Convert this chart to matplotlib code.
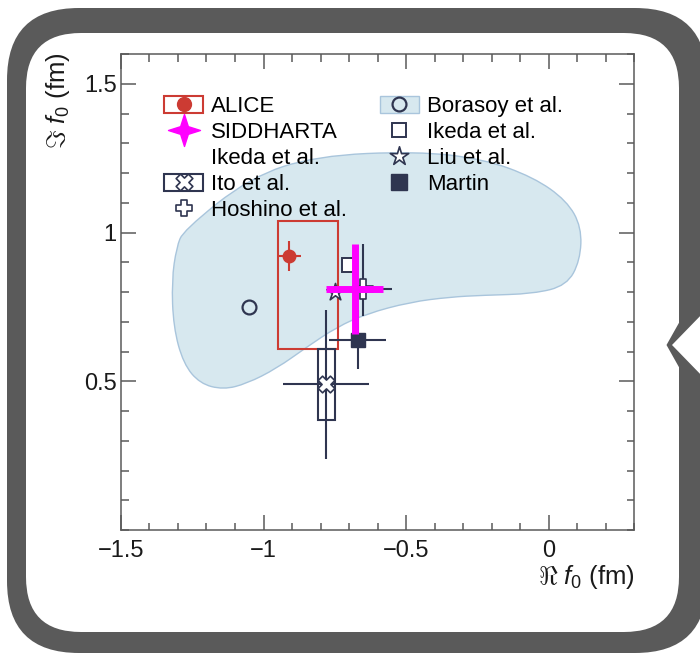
import matplotlib
matplotlib.use("Agg")
import matplotlib.pyplot as plt
import numpy as np
from matplotlib.path import Path
from matplotlib.patches import PathPatch, Rectangle, FancyBboxPatch, Polygon
from matplotlib.lines import Line2D
from matplotlib.ticker import MultipleLocator

plt.rcParams['font.family'] = ['Liberation Sans', 'DejaVu Sans']
plt.rcParams['mathtext.fontset'] = 'custom'
plt.rcParams['mathtext.rm'] = 'Liberation Sans'
plt.rcParams['mathtext.it'] = 'Liberation Sans:italic'

# K-p scattering lengths f0 = Re + i Im (fm)
alice_re, alice_im = -0.91, 0.92
alice_stat_re, alice_stat_im = 0.04, 0.05
alice_syst_re = (0.04, 0.17)   # (minus, plus)
alice_syst_im = (0.31, 0.12)

siddharta_re, siddharta_im = -0.68, 0.81
siddharta_err_re, siddharta_err_im = 0.10, 0.15

ito_re, ito_im = -0.78, 0.49
ito_stat_re, ito_stat_im = 0.15, 0.25
ito_syst_re, ito_syst_im = 0.03, 0.12

hoshino_re, hoshino_im = -0.65, 0.81
hoshino_err_re = 0.10
hoshino_err_im = (0.09, 0.15)   # (minus, plus)

borasoy_re, borasoy_im = -1.05, 0.75
ikeda_re, ikeda_im = -0.70, 0.89
liu_re, liu_im = -0.75, 0.80
martin_re, martin_im = -0.67, 0.64
martin_err_re, martin_err_im = 0.10, 0.10

# allowed region from Borasoy et al.
region_re = [-1.281, -1.047, -0.813, -0.462, -0.229, -0.053, 0.064, 0.116, 0.111,
             0.064, -0.053, -0.229, -0.346, -0.486, -0.638, -0.743, -0.848, -0.954,
             -1.059, -1.141, -1.223, -1.281, -1.316, -1.322, -1.305]
region_im = [1.007, 1.186, 1.258, 1.273, 1.247, 1.186, 1.107, 1.018, 0.906,
             0.822, 0.794, 0.789, 0.783, 0.766, 0.727, 0.682, 0.615, 0.543,
             0.492, 0.472, 0.492, 0.559, 0.682, 0.839, 0.951]

RED = '#cc3b33'
NAVY = '#2f3550'
MAGENTA = '#ff00ff'
BLUE_FILL = '#d7e8ef'
BLUE_EDGE = '#a9c5dc'
FRAME = '#5a5a5a'


def star(npts, inner):
    k = np.arange(2 * npts)
    ang = np.pi / 2 + k * np.pi / npts
    r = np.where(k % 2 == 0, 1.0, inner)
    v = np.column_stack([r * np.cos(ang), r * np.sin(ang)])
    v = np.vstack([v, v[:1]])
    return Path(v, [Path.MOVETO] + [Path.LINETO] * (2 * npts - 1) + [Path.CLOSEPOLY])


def open_cross(w=0.36, rot=0.0):
    v = np.array([(-w, 1), (w, 1), (w, w), (1, w), (1, -w), (w, -w), (w, -1),
                  (-w, -1), (-w, -w), (-1, -w), (-1, w), (-w, w), (-w, 1)])
    c, s = np.cos(np.radians(rot)), np.sin(np.radians(rot))
    v = v @ np.array([[c, s], [-s, c]])
    return Path(v, [Path.MOVETO] + [Path.LINETO] * 11 + [Path.CLOSEPOLY])


def smooth_closed(xs, ys):
    p = np.column_stack([xs, ys])
    n = len(p)
    mids = (p + np.roll(p, -1, axis=0)) / 2
    verts = [mids[-1]]
    codes = [Path.MOVETO]
    for i in range(n):
        verts += [p[i], mids[i]]
        codes += [Path.CURVE3, Path.CURVE3]
    return Path(verts, codes)


sidd_marker = star(4, 0.34)
liu_marker = star(5, 0.36)
ito_marker = open_cross(rot=45)
hosh_marker = open_cross()

fig = plt.figure(figsize=(7.0, 6.54), dpi=100)

# rounded panel frame
bg = fig.add_axes([0, 0, 1, 1], zorder=-5)
bg.set_xlim(0, 700)
bg.set_ylim(654, 0)
bg.axis('off')
bg.add_patch(FancyBboxPatch((7, 8), 700, 645, boxstyle='round,pad=0,rounding_size=72',
                            fc=FRAME, ec='none'))
bg.add_patch(FancyBboxPatch((26, 33), 653, 599, boxstyle='round,pad=0,rounding_size=55',
                            fc='white', ec='none'))
bg.add_patch(Polygon([(666.5, 345), (680, 321), (680, 369)], closed=True, fc=FRAME, ec='none'))
bg.add_patch(Polygon([(672, 345), (706, 310), (706, 380)], closed=True, fc='white', ec='none'))

ax = fig.add_axes([121 / 700, 124 / 654, 513 / 700, 476 / 654])
ax.set_xlim(-1.5, 0.3)
ax.set_ylim(0, 1.6)
ax.patch.set_alpha(0)

ax.add_patch(PathPatch(smooth_closed(region_re, region_im), fc=BLUE_FILL, ec=BLUE_EDGE,
                       lw=1.0, zorder=1))

# ALICE
ax.add_patch(Rectangle((alice_re - alice_syst_re[0], alice_im - alice_syst_im[0]),
                       sum(alice_syst_re), sum(alice_syst_im), fc='none', ec=RED, lw=1.5,
                       zorder=3))
ax.errorbar(alice_re, alice_im, xerr=alice_stat_re, yerr=alice_stat_im, fmt='o', color=RED,
            ms=9, lw=1.5, capsize=0, zorder=4)

# Ito et al.
ax.add_patch(Rectangle((ito_re - ito_syst_re, ito_im - ito_syst_im), 2 * ito_syst_re,
                       2 * ito_syst_im, fc='none', ec=NAVY, lw=1.5, zorder=3))
ax.errorbar(ito_re, ito_im, xerr=ito_stat_re, yerr=ito_stat_im, fmt='none', ecolor=NAVY,
            lw=1.5, capsize=0, zorder=3)
ax.plot(ito_re, ito_im, marker=ito_marker, ms=12, mfc='white', mec=NAVY, mew=1.2, ls='none',
        zorder=5)

# Borasoy, Ikeda, Hoshino, Liu, Martin
ax.plot(borasoy_re, borasoy_im, 'o', ms=10, mfc='none', mec=NAVY, mew=1.6, zorder=5)
ax.errorbar(hoshino_re, hoshino_im, xerr=hoshino_err_re,
            yerr=[[hoshino_err_im[0]], [hoshino_err_im[1]]],
            fmt='none', ecolor=NAVY, lw=1.5, capsize=0, zorder=3)
ax.plot(hoshino_re, hoshino_im, marker=hosh_marker, ms=14, mfc='white', mec=NAVY, mew=1.2,
        ls='none', zorder=3.5)
ax.plot(ikeda_re, ikeda_im, 's', ms=10, mfc='white', mec=NAVY, mew=1.4, zorder=4)
ax.plot(liu_re, liu_im, marker=liu_marker, ms=13, mfc='white', mec=NAVY, mew=1.2, ls='none',
        zorder=4)
ax.errorbar(martin_re, martin_im, xerr=martin_err_re, yerr=martin_err_im, fmt='s', color=NAVY,
            ms=10, lw=1.5, capsize=0, zorder=4)

# SIDDHARTA
ax.errorbar(siddharta_re, siddharta_im, xerr=siddharta_err_re, yerr=siddharta_err_im,
            fmt='none', ecolor=MAGENTA, lw=5, capsize=0, zorder=6)
ax.plot(siddharta_re, siddharta_im, marker=sidd_marker, ms=14, color=MAGENTA, ls='none',
        zorder=6)

# axes styling
ax.set_xticks([-1.5, -1.0, -0.5, 0.0])
ax.set_xticklabels(['\u22121.5', '\u22121', '\u22120.5', '0'])
ax.xaxis.set_minor_locator(MultipleLocator(0.1))
ax.set_yticks([0.5, 1.0, 1.5])
ax.set_yticklabels(['0.5', '1', '1.5'])
ax.yaxis.set_minor_locator(MultipleLocator(0.1))
ax.tick_params(which='both', direction='in', top=True, right=True, color='#5a5a5a',
               width=1.1, labelsize=17, labelcolor='#1a1a1a')
ax.tick_params(which='major', length=10.8)
ax.tick_params(which='minor', length=5.4)
ax.tick_params(axis='x', pad=7)
ax.tick_params(axis='y', pad=3)
for sp in ax.spines.values():
    sp.set_color('#5a5a5a')
    sp.set_linewidth(1.1)

fig.text(635 / 700, 1 - 577 / 654, r'$\Re\ f_{0}$ (fm)', ha='right', va='center',
         fontsize=18.5, color='#1a1a1a')
fig.text(58 / 700, 1 - 52 / 654, r'$\Im\ f_{0}$ (fm)', ha='center', va='top', rotation=90,
         fontsize=18.5, color='#1a1a1a')

# legend
blank = Line2D([], [], ls='none')
h_alice = (Rectangle((0, 0), 1, 1, fc='white', ec=RED, lw=1.5),
           Line2D([], [], marker='o', color=RED, ms=10, ls='none'))
h_sidd = Line2D([], [], marker=sidd_marker, color=MAGENTA, ms=23, ls='none')
h_ito = (Rectangle((0, 0), 1, 1, fc='white', ec=NAVY, lw=1.5),
         Line2D([], [], marker=ito_marker, ms=12, mfc='white', mec=NAVY, mew=1.2, ls='none'))
h_hosh = Line2D([], [], marker=hosh_marker, ms=12, mfc='white', mec=NAVY, mew=1.2, ls='none')
h_bor = (Rectangle((0, 0), 1, 1, fc=BLUE_FILL, ec=BLUE_EDGE, lw=1.0),
         Line2D([], [], marker='o', ms=10, mfc='none', mec=NAVY, mew=1.6, ls='none'))
h_ikeda = Line2D([], [], marker='s', ms=10, mfc='white', mec=NAVY, mew=1.4, ls='none')
h_liu = Line2D([], [], marker=liu_marker, ms=14, mfc='white', mec=NAVY, mew=1.2, ls='none')
h_martin = Line2D([], [], marker='s', ms=11, color=NAVY, ls='none')

handles = [h_alice, h_sidd, blank, h_ito, h_hosh, h_bor, h_ikeda, h_liu, h_martin]
labels = ['ALICE', 'SIDDHARTA', 'Ikeda et al.', 'Ito et al.', 'Hoshino et al.',
          'Borasoy et al.', 'Ikeda et al.', 'Liu et al.', 'Martin']
ax.legend(handles, labels, ncol=2, loc='upper left', bbox_to_anchor=(0.084, 0.912),
          frameon=False, fontsize=16, handlelength=1.75, handleheight=0.78,
          handletextpad=0.38, columnspacing=1.45, labelspacing=0.225, borderpad=0,
          borderaxespad=0)

fig.savefig('out.png', dpi=100)
